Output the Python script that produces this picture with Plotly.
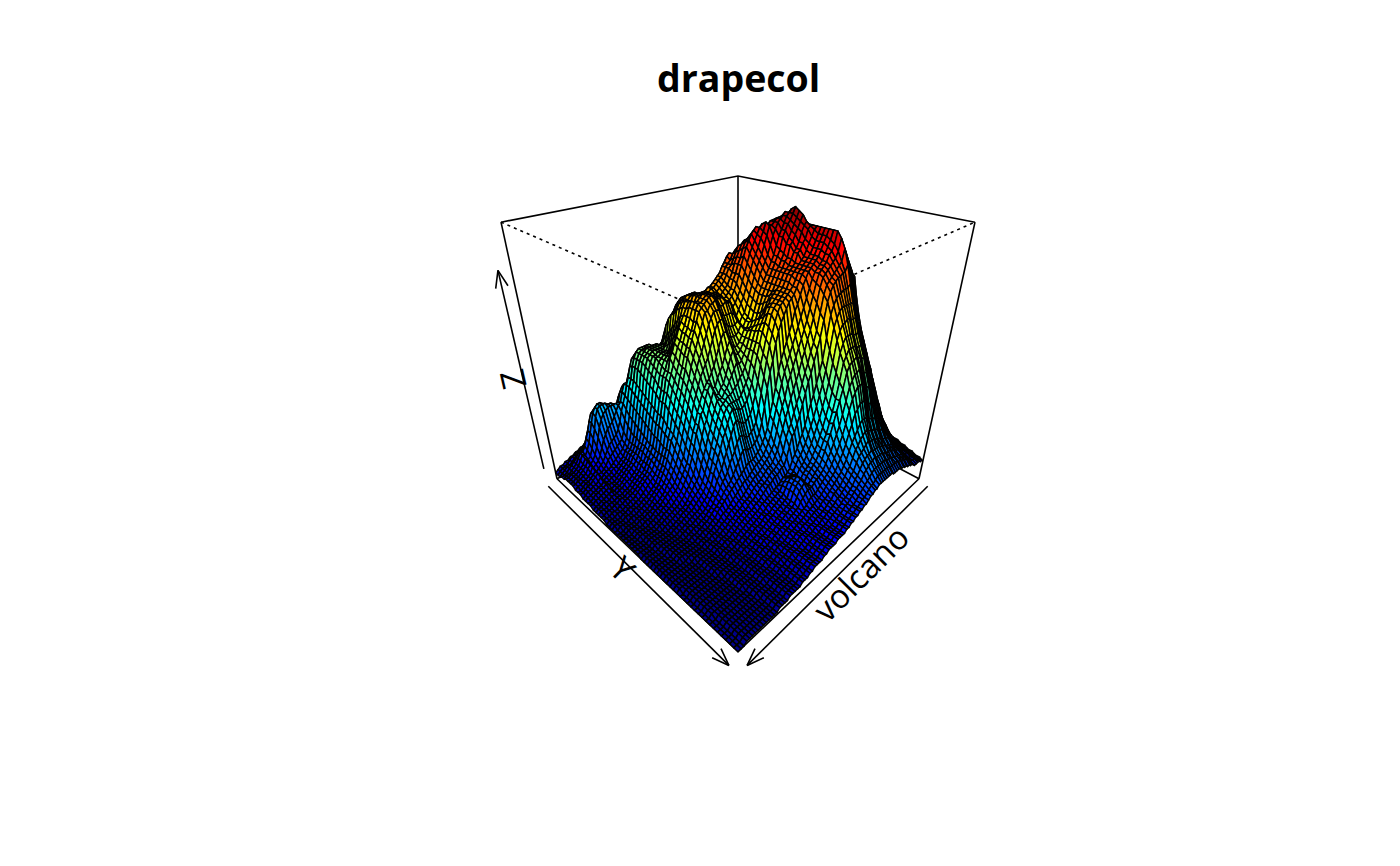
import math
import numpy as np
import plotly.graph_objects as go

title = "drapecol"
x_label, y_label, z_label = "volcano", "Y", "Z"
theta, phi, r_dist, d_dist = 135.0, 30.0, math.sqrt(3), 1.0

volcano = [
[100,100,101,101,101,101,101,100,100,100,101,101,102,102,102,102,103,104,103,102,101,101,102,103,104,104,105,107,107,107,108,108,110,110,110,110,110,110,110,110,108,108,108,107,107,108,108,108,108,108,107,107,107,107,106,106,105,105,104,104,103],
[101,101,102,102,102,102,102,101,101,101,102,102,103,103,103,103,104,105,104,103,102,102,103,105,106,106,107,109,110,110,110,110,111,112,113,114,116,115,114,112,110,110,110,109,108,109,109,109,109,108,108,108,108,107,107,106,106,105,105,104,104],
[102,102,103,103,103,103,103,102,102,102,103,103,104,104,104,104,105,106,105,104,104,105,106,107,108,110,111,113,114,115,114,115,116,118,119,119,121,121,120,118,116,114,112,111,110,110,110,110,109,109,109,109,108,108,107,107,106,106,105,105,104],
[103,103,104,104,104,104,104,103,103,103,103,104,104,104,105,105,106,106,106,106,106,107,108,110,111,114,117,118,117,119,120,121,122,124,125,126,127,127,126,124,122,120,117,116,113,111,110,110,110,109,109,109,109,108,108,107,107,106,106,105,105],
[104,104,105,105,105,105,105,104,104,103,104,104,105,105,105,106,106,107,107,107,108,109,110,111,114,116,118,120,122,122,123,124,126,127,128,129,130,130,129,127,125,123,120,118,115,112,110,110,110,110,110,109,109,108,108,108,107,107,106,106,105],
[105,105,105,106,106,106,106,105,105,104,104,105,105,106,106,106,107,108,108,108,109,110,111,113,116,118,120,122,124,126,127,128,130,131,133,134,136,135,133,130,127,124,120,117,115,113,112,111,111,110,110,109,109,108,108,108,107,107,106,106,105],
[105,106,106,107,107,107,107,106,106,105,105,106,106,107,107,107,108,109,109,110,111,112,113,116,119,121,123,125,127,129,131,132,134,135,137,138,140,139,137,135,133,130,127,124,121,118,116,115,114,113,112,111,110,110,109,108,108,107,107,106,105],
[106,107,107,108,108,108,108,107,107,106,106,107,108,108,108,109,110,110,111,112,113,115,117,120,123,125,127,129,131,133,135,136,138,139,141,142,144,143,141,140,138,136,133,130,128,126,125,124,123,122,120,119,117,115,113,112,110,109,108,107,106],
[107,108,108,109,109,109,109,108,108,107,108,108,110,110,110,111,112,113,114,115,116,118,120,123,126,129,131,133,135,137,139,140,142,143,145,146,147,146,145,144,142,140,137,135,132,130,128,127,125,123,122,120,118,116,115,113,111,110,109,108,107],
[108,109,109,110,110,110,110,109,109,108,109,109,110,111,111,112,113,114,116,117,119,121,124,127,130,133,135,137,139,141,143,144,146,147,149,150,151,150,149,148,146,144,142,140,137,135,133,131,129,128,125,122,120,118,115,114,112,111,110,109,107],
[109,110,110,111,111,111,111,110,110,109,110,110,111,112,112,113,114,116,118,120,122,124,127,130,134,137,139,141,143,145,147,149,150,152,153,154,155,154,153,152,151,149,147,145,142,139,137,135,133,131,128,125,122,120,117,115,113,112,111,110,108],
[110,110,111,112,112,112,112,111,111,110,111,111,112,113,113,114,116,118,120,122,125,127,130,134,137,140,143,145,147,150,152,153,155,156,157,158,158,158,157,157,156,154,152,150,147,144,142,140,137,135,131,128,124,121,118,116,114,113,112,110,108],
[110,111,112,112,113,113,113,112,112,111,112,112,113,114,115,116,118,120,122,125,127,130,134,137,141,144,147,150,152,155,157,158,160,160,161,162,162,162,162,161,161,159,157,155,152,149,146,144,141,138,134,130,126,122,119,117,115,113,112,111,109],
[111,112,113,113,114,114,114,113,113,112,113,113,114,115,116,118,120,122,125,127,130,133,137,141,145,149,152,155,157,160,162,163,164,165,165,166,166,166,166,166,166,165,163,160,156,153,150,147,144,140,136,131,127,123,120,118,116,114,113,111,109],
[114,114,115,115,115,115,115,114,114,113,114,114,115,116,118,120,122,124,127,130,133,137,141,145,149,153,157,160,162,165,167,168,169,169,170,171,172,172,172,172,172,171,169,165,160,156,153,150,146,143,138,133,128,124,121,118,116,115,113,112,110],
[116,116,116,116,116,116,116,115,115,114,115,115,116,118,120,122,124,127,130,134,137,141,145,150,154,158,162,165,167,170,172,172,173,173,174,175,176,177,177,178,178,177,176,175,168,162,157,153,149,145,140,135,130,125,122,119,117,115,113,112,110],
[118,118,118,118,118,117,117,116,116,115,116,117,118,120,122,124,127,130,134,138,142,146,150,155,159,163,167,170,172,175,177,177,177,178,178,179,180,181,181,182,182,181,179,176,170,164,159,155,151,147,142,137,131,126,122,119,117,116,114,113,111],
[120,120,120,119,119,118,118,117,117,117,118,119,120,122,124,127,130,134,138,142,146,151,155,160,164,168,172,175,178,180,182,182,182,182,182,183,184,185,186,186,186,184,181,178,172,166,161,156,152,148,143,138,132,127,123,120,118,116,114,113,111],
[120,120,120,120,120,119,119,118,118,118,119,120,122,124,127,130,133,137,141,146,150,155,160,165,169,173,177,180,183,185,187,187,186,186,186,186,187,188,188,188,188,186,183,179,173,167,162,157,153,149,144,139,133,128,124,121,118,116,115,113,111],
[121,121,121,121,120,120,119,119,119,119,120,122,124,127,130,133,136,140,145,150,154,159,164,169,174,178,182,185,188,190,192,192,191,190,190,190,190,190,190,190,190,188,185,180,174,168,163,158,154,150,145,140,134,128,124,121,119,117,115,113,111],
[121,121,121,121,121,120,120,120,120,120,122,124,126,129,132,136,140,144,149,154,158,163,168,173,178,182,186,189,192,194,195,194,193,191,190,189,188,188,188,187,186,184,181,178,173,168,163,158,154,150,145,140,134,129,125,122,119,117,115,113,111],
[121,121,122,122,122,121,121,121,122,123,125,127,130,133,137,141,145,149,155,160,164,169,173,177,181,185,188,191,193,193,193,192,191,190,189,187,186,186,186,185,184,182,180,178,173,168,163,158,154,151,146,141,135,129,125,122,120,118,116,114,112],
[121,121,122,122,122,122,122,122,123,125,127,130,133,137,141,145,149,153,158,163,167,171,175,179,183,187,189,191,192,192,191,190,189,188,186,185,184,184,184,183,183,181,179,177,173,168,164,159,155,151,147,142,136,130,126,123,120,118,116,114,112],
[121,121,122,122,122,122,122,123,125,127,129,132,135,138,142,146,150,155,160,165,169,173,177,181,183,187,190,191,191,190,190,188,187,185,185,183,182,182,182,181,181,180,178,177,172,168,164,159,155,152,148,143,137,131,126,123,120,118,116,114,112],
[121,121,122,122,122,122,123,124,126,128,130,133,136,139,143,147,152,157,162,167,171,175,179,183,185,188,190,190,190,188,188,186,185,183,183,181,181,181,181,180,180,179,177,176,172,168,163,159,155,151,147,143,137,131,127,123,120,118,116,114,112],
[121,121,122,122,122,123,124,125,126,127,130,133,136,139,143,148,153,158,163,168,172,176,180,184,186,188,189,189,188,186,186,184,184,182,182,180,180,180,180,179,179,178,176,175,171,167,163,159,155,151,147,143,137,131,127,124,121,119,116,114,112],
[120,121,122,122,122,123,124,125,126,127,130,133,136,140,144,149,154,159,165,170,174,177,181,184,187,189,190,189,186,183,182,181,180,180,179,179,179,179,179,178,178,177,175,173,169,165,161,157,153,150,145,141,135,130,126,123,120,118,116,114,112],
[120,121,121,122,122,123,124,125,126,127,130,133,137,141,145,150,155,161,167,172,176,179,182,185,188,188,187,186,183,180,180,179,179,178,178,178,178,178,178,176,175,174,172,170,166,162,158,154,151,148,143,139,134,128,125,122,120,118,116,114,112],
[120,120,121,122,122,123,124,125,126,127,130,133,137,141,146,151,157,163,169,174,177,180,183,185,187,186,185,183,180,178,178,177,177,177,177,177,177,177,176,173,171,169,166,164,158,154,150,147,144,142,138,135,130,126,123,121,119,117,115,113,112],
[120,120,121,122,122,123,124,125,126,127,130,134,138,142,147,153,159,165,171,175,178,181,183,184,186,184,182,180,178,176,176,176,176,176,176,176,175,175,174,170,167,164,160,158,150,147,143,140,138,138,133,130,127,124,122,120,118,116,114,112,111],
[120,120,121,122,122,123,124,125,126,127,130,134,138,143,148,154,160,166,172,176,179,181,182,183,184,182,180,178,176,174,174,174,174,174,174,174,173,173,171,167,163,160,156,154,146,142,138,135,133,134,129,126,123,121,119,118,116,115,113,112,111],
[120,120,121,122,122,123,124,125,126,127,130,134,139,144,150,156,162,168,174,178,178,179,180,181,182,180,178,176,174,172,172,172,172,172,172,172,172,171,168,164,160,157,153,150,142,138,134,131,129,130,126,123,120,118,116,115,114,113,112,111,110],
[120,120,121,122,122,123,124,125,126,127,130,135,140,145,151,157,163,169,174,177,176,177,178,178,179,177,175,173,171,170,170,170,170,171,171,171,171,170,166,161,157,153,149,146,138,134,130,127,125,126,123,120,118,116,115,114,113,112,111,110,110],
[120,120,121,121,121,122,123,124,125,127,130,135,140,145,150,156,162,167,172,175,175,175,176,176,176,174,172,170,169,168,168,168,169,170,170,170,170,169,162,158,154,150,146,143,135,130,127,124,123,123,120,118,116,114,113,112,111,111,110,109,109],
[119,120,120,121,121,122,123,124,125,127,130,135,140,145,150,155,161,166,170,174,174,174,173,173,173,171,169,167,166,165,165,166,167,169,169,169,169,167,159,155,151,146,142,139,131,127,124,121,120,120,118,116,114,113,112,111,110,110,109,109,108],
[119,120,120,121,121,122,123,124,125,127,130,135,140,145,150,155,160,165,169,172,172,172,171,171,170,168,166,164,163,162,162,163,165,167,168,168,168,165,156,152,148,143,138,135,127,124,121,119,118,117,116,114,113,112,110,110,109,109,108,108,108],
[119,119,120,121,121,122,123,124,125,127,131,135,140,145,150,155,160,164,168,171,171,170,169,168,168,166,164,161,160,159,159,161,163,166,167,167,166,163,153,149,145,140,135,131,124,121,119,117,116,115,114,113,112,111,110,109,108,108,107,107,107],
[119,119,120,121,121,122,123,124,126,128,131,135,140,145,150,155,159,163,167,170,170,169,168,167,166,164,162,160,159,159,160,161,162,163,165,165,163,160,150,146,142,137,132,128,122,119,117,115,115,114,113,112,111,110,109,108,108,107,107,107,107],
[119,119,120,120,121,122,123,124,126,128,131,135,140,145,150,155,159,163,167,169,169,168,167,166,165,163,160,158,157,157,158,159,160,161,162,161,159,156,146,142,137,133,128,125,119,117,115,114,114,113,112,111,110,109,109,108,107,107,106,106,106],
[118,118,119,120,121,122,123,124,126,129,132,136,141,146,152,156,160,163,166,168,168,167,166,165,165,165,161,159,158,157,157,158,158,159,159,157,155,150,140,138,134,130,126,124,117,116,114,113,113,112,112,110,109,108,107,107,106,106,106,106,106],
[118,118,119,120,121,121,122,124,126,129,132,136,141,147,153,157,160,163,166,168,168,167,167,167,166,165,162,158,156,155,155,155,155,155,155,152,150,146,135,133,130,126,123,120,115,114,113,112,112,111,111,109,108,107,107,106,106,105,105,105,105],
[118,118,119,120,121,121,122,124,126,130,133,137,142,148,155,158,161,164,166,167,167,167,167,167,167,166,162,158,155,153,153,152,152,152,151,148,144,140,130,128,125,122,118,116,112,112,111,110,110,110,110,108,107,107,106,106,105,105,105,105,105],
[118,118,119,120,121,121,122,124,127,130,134,138,143,150,156,159,162,164,166,167,167,167,167,167,167,165,162,158,155,152,151,150,149,148,146,142,138,133,125,123,120,118,115,113,111,111,112,112,112,111,110,108,107,106,105,105,105,104,104,104,104],
[117,118,118,119,121,121,122,124,127,131,135,140,145,151,158,161,164,165,166,167,167,167,167,167,167,165,162,159,155,152,150,148,146,143,141,137,132,127,122,120,118,116,114,113,110,111,112,113,113,112,110,108,106,105,105,105,104,104,104,104,104],
[117,118,118,119,121,121,122,125,128,132,136,141,147,152,159,162,165,166,167,167,167,168,168,168,168,166,163,160,156,153,150,147,144,141,138,133,127,123,120,118,116,114,113,112,110,111,112,112,112,111,109,107,106,105,104,104,104,103,103,103,103],
[117,117,118,119,121,121,122,125,128,133,137,142,148,153,160,163,165,166,167,167,168,168,169,169,169,168,165,162,158,155,152,148,143,139,135,130,125,121,118,116,115,113,112,111,109,110,111,111,111,110,108,106,105,105,104,104,103,103,103,103,103],
[116,117,118,119,120,121,122,125,129,134,138,143,149,154,160,163,165,166,167,167,168,168,169,169,169,167,165,162,158,153,150,146,141,137,134,129,124,120,117,115,114,113,112,111,108,109,109,109,109,108,107,105,105,104,104,103,103,103,103,103,103],
[116,117,117,118,120,120,122,125,129,134,139,144,150,155,160,163,165,166,167,167,168,168,168,168,168,167,165,161,156,150,147,144,140,136,133,128,123,119,116,114,113,112,111,110,108,107,107,106,106,106,105,105,104,104,103,103,103,103,103,103,103],
[115,116,117,118,120,120,122,125,129,134,139,145,150,155,159,162,164,165,166,166,166,166,167,167,167,165,163,159,153,147,144,142,139,136,133,128,123,119,115,114,112,111,110,109,107,107,106,106,105,105,105,104,104,103,103,103,102,102,102,102,102],
[115,116,117,118,120,120,122,125,130,135,140,145,150,154,158,160,162,164,165,166,166,167,167,167,166,165,161,156,150,145,141,140,138,136,134,129,124,119,115,113,111,110,109,109,107,106,106,105,105,105,104,104,103,103,103,102,102,102,102,102,102],
[114,115,116,117,120,120,122,126,131,136,141,146,150,154,157,159,160,162,163,164,164,165,165,165,165,162,158,153,147,143,140,139,138,136,134,130,125,120,115,112,111,109,109,108,106,106,105,105,104,104,104,103,103,103,102,102,102,102,102,102,102],
[114,115,116,117,119,120,122,127,132,138,142,145,147,149,151,153,155,157,159,161,162,162,162,161,162,159,155,150,145,140,138,137,137,136,135,131,125,120,114,111,110,109,108,107,106,105,105,104,104,104,103,103,103,102,102,102,102,102,102,102,102],
[113,114,115,117,119,119,122,128,134,139,143,145,146,147,148,150,152,154,156,158,160,159,159,158,159,156,152,148,143,140,138,137,136,135,133,129,123,118,113,110,109,108,107,106,105,105,104,104,103,103,103,103,102,102,102,102,101,101,101,101,101],
[113,114,115,116,119,119,122,129,136,141,144,146,147,147,147,148,149,151,153,155,158,157,157,156,156,153,150,146,142,142,140,137,135,133,130,126,120,116,112,110,108,107,106,105,105,104,103,103,103,103,102,102,102,102,102,101,101,101,101,101,101],
[113,113,114,116,118,119,122,130,137,142,145,146,147,147,147,147,147,148,150,152,155,154,154,153,153,150,147,144,140,140,137,134,132,130,127,123,118,114,111,109,107,106,105,105,104,103,103,103,102,102,102,102,102,101,101,101,100,100,100,100,100],
[113,113,114,115,118,119,122,131,138,143,146,147,147,147,147,147,147,147,148,150,153,152,151,150,150,147,144,141,138,137,134,131,129,127,125,120,116,112,110,108,106,105,105,104,103,103,103,102,102,102,102,101,101,101,101,100,100,100,100,100,100],
[112,113,114,115,118,119,122,131,139,144,146,147,147,147,147,147,147,147,147,148,150,149,147,146,146,143,141,138,135,133,130,127,125,123,121,117,113,110,109,107,105,105,104,103,103,102,102,102,101,101,101,101,100,100,100,100,100,100,100,100,100],
[112,112,113,115,118,118,122,131,139,144,146,146,147,147,147,146,146,146,146,146,148,146,144,143,142,140,138,135,132,132,128,124,121,120,118,114,111,109,108,106,105,104,103,103,102,102,101,101,101,101,101,100,100,100,100,100,100,100,100,100,100],
[112,112,113,114,117,118,122,131,139,144,146,146,146,146,146,146,146,145,144,143,143,143,141,139,138,136,134,131,128,128,124,120,117,116,115,112,110,108,107,105,104,103,103,102,102,101,101,101,100,100,100,100,100,100,100,100,99,99,99,99,99],
[111,112,113,114,117,118,122,130,138,143,145,145,145,145,145,144,143,142,141,141,141,140,138,136,134,132,130,127,125,125,120,117,114,112,112,110,108,107,106,104,103,103,102,102,101,101,101,100,100,100,100,100,100,99,99,99,99,99,99,99,99],
[111,111,112,114,117,118,122,129,137,142,143,143,143,143,142,141,140,139,137,136,136,136,134,132,130,128,126,123,121,120,117,114,111,109,108,107,106,105,105,103,103,102,102,101,101,100,100,100,100,100,99,99,99,99,99,99,99,99,99,98,98],
[110,111,112,114,118,118,123,128,135,139,140,140,140,139,138,137,136,135,134,132,132,132,130,128,126,124,122,119,117,116,113,110,108,107,106,105,105,104,104,102,102,101,101,101,100,100,100,99,99,99,99,99,99,99,99,98,98,98,98,98,98],
[110,110,111,114,118,119,124,128,132,135,135,135,134,133,132,131,130,129,128,127,127,126,124,123,122,120,118,115,113,113,110,108,106,105,104,104,103,103,103,102,101,101,100,100,100,99,99,99,99,99,99,98,98,98,98,98,98,98,98,98,98],
[109,110,111,114,118,120,125,130,132,132,132,131,130,129,128,127,126,125,124,123,123,122,121,120,120,117,115,113,111,110,108,107,105,104,103,102,102,102,102,101,100,100,100,99,99,99,99,98,98,98,98,98,98,98,98,98,97,97,97,97,97],
[109,109,110,114,119,121,125,128,129,128,127,126,125,124,123,122,121,120,119,118,118,117,116,116,116,114,112,110,109,108,106,105,104,103,102,101,101,101,100,100,100,99,99,99,98,98,98,98,98,98,98,98,98,97,97,97,97,97,97,97,97],
[108,109,110,113,117,120,122,124,125,125,123,121,120,119,118,117,116,115,114,114,113,113,113,113,113,111,110,108,107,106,105,104,103,102,101,100,100,100,100,99,99,99,98,98,98,98,98,98,97,97,97,97,97,97,97,97,97,97,97,97,97],
[108,109,110,114,119,121,123,124,124,122,119,117,115,114,114,113,113,113,112,112,111,111,110,110,110,109,108,106,105,104,103,102,102,101,100,100,99,99,99,99,98,98,98,98,98,97,97,97,97,97,97,97,97,97,97,97,97,97,97,97,97],
[107,108,110,115,120,122,124,124,122,118,114,112,111,111,111,111,111,111,110,110,110,109,108,108,108,107,106,105,104,103,102,101,101,100,100,99,99,99,98,98,98,98,98,98,97,97,97,97,97,97,97,97,97,97,97,97,97,97,97,97,97],
[107,108,111,116,121,123,124,124,120,115,111,110,109,109,109,109,109,108,108,108,108,107,106,106,106,105,105,104,103,102,101,100,100,100,99,99,98,98,98,98,98,97,97,97,97,97,97,97,97,97,97,97,97,97,97,96,96,96,96,96,96],
[106,107,111,117,122,124,125,124,118,113,110,108,108,108,108,108,107,107,107,106,106,106,105,104,104,104,103,103,102,101,100,100,100,99,99,98,98,98,98,97,97,97,97,97,97,97,97,96,96,96,96,96,96,96,96,96,96,96,96,96,96],
[106,107,111,118,123,125,125,123,117,112,109,107,106,106,106,106,106,105,105,105,105,105,104,103,103,103,102,102,101,100,100,99,99,99,98,98,98,97,97,97,97,97,97,97,96,96,96,96,96,96,96,96,96,96,96,96,96,96,96,96,96],
[105,106,110,118,123,125,125,122,116,111,108,106,105,105,105,105,105,104,104,104,104,104,103,102,102,102,101,101,100,100,99,99,98,98,98,98,97,97,97,97,97,96,96,96,96,96,96,96,96,96,96,96,96,96,96,96,96,96,96,96,96],
[105,106,110,117,122,124,124,120,114,110,107,105,104,104,104,104,104,103,103,103,103,103,102,101,101,101,100,100,100,99,99,98,98,98,97,97,97,97,96,96,96,96,96,96,96,96,96,96,96,96,96,96,96,96,96,96,95,95,95,95,95],
[104,105,109,116,121,122,121,117,112,108,106,104,103,103,103,103,103,102,102,102,102,102,101,100,100,100,100,99,99,99,98,98,97,97,97,97,96,96,96,96,96,96,96,96,96,96,96,96,96,96,96,96,96,95,95,95,95,95,95,95,95],
[104,105,108,114,118,118,116,113,109,106,105,103,103,102,102,102,102,102,101,101,101,101,100,100,99,99,99,99,98,98,98,97,97,97,96,96,96,96,96,96,96,96,96,96,96,96,96,96,95,95,95,95,95,95,95,95,95,95,95,95,95],
[103,104,107,111,114,114,112,109,106,104,103,102,102,101,101,101,101,101,100,100,100,100,99,99,99,98,98,98,98,97,97,97,96,96,96,96,96,96,96,96,96,96,96,96,96,96,96,95,95,95,95,95,95,95,95,95,95,95,95,95,95],
[103,104,106,108,111,110,108,106,104,103,102,102,101,101,100,100,100,100,100,100,100,99,99,98,98,98,98,97,97,97,97,96,96,96,96,96,96,96,96,96,96,96,95,95,95,95,95,95,95,95,95,95,95,95,95,95,95,95,95,95,95],
[102,103,104,106,108,107,105,104,103,102,101,101,101,100,100,100,100,100,99,99,99,99,98,98,98,97,97,97,97,96,96,96,96,96,96,96,96,96,96,96,96,95,95,95,95,95,95,95,95,95,95,95,95,95,95,95,95,95,95,95,95],
[102,103,103,105,106,105,104,103,102,101,101,100,100,100,100,99,99,99,99,99,99,98,98,98,97,97,97,97,96,96,96,96,96,96,96,96,96,96,96,96,95,95,95,95,95,95,95,95,95,95,95,95,95,95,95,95,95,95,95,95,95],
[101,102,103,105,106,106,105,105,104,104,103,103,102,101,101,100,100,99,99,99,98,98,98,97,97,97,97,96,96,96,96,96,96,96,96,96,96,96,96,96,95,95,95,95,95,95,95,95,95,95,95,95,95,95,95,95,95,95,95,95,95],
[101,102,102,103,104,104,103,103,103,102,102,102,101,100,100,100,99,99,98,98,98,97,97,97,97,96,96,96,96,96,96,96,96,96,96,96,96,95,95,95,95,95,95,95,95,95,95,95,95,95,95,95,95,95,95,95,95,95,95,95,95],
[100,101,101,102,102,102,102,102,101,101,101,101,100,100,100,99,99,98,98,98,97,97,97,97,96,96,96,96,96,96,96,96,96,96,95,95,95,95,95,95,95,95,95,95,95,95,95,95,95,95,95,95,95,95,95,95,95,95,95,95,95],
[100,100,100,101,101,101,101,101,101,100,100,100,100,99,99,99,98,98,98,97,97,97,96,96,96,96,96,96,96,96,95,95,95,95,95,95,95,95,95,95,95,95,95,95,95,95,95,95,95,95,95,95,95,95,95,95,95,95,95,95,95],
[99,99,100,100,100,100,100,100,100,100,100,100,99,99,99,98,98,98,97,97,97,96,96,96,96,96,96,95,95,95,95,95,95,95,95,95,95,95,95,95,95,95,95,95,95,95,95,95,95,95,95,95,95,95,95,95,95,95,95,95,95],
[99,99,99,99,99,100,100,100,100,99,99,99,99,98,98,98,97,97,97,97,96,96,96,96,96,95,95,95,95,95,95,95,95,95,95,95,95,95,95,95,95,95,95,95,95,95,95,95,95,95,95,95,95,94,94,94,94,94,94,94,94],
[98,98,98,98,99,99,99,99,99,99,98,98,98,98,97,97,97,97,97,96,96,96,96,96,95,95,95,95,95,95,95,95,95,95,95,95,95,95,95,95,95,95,95,95,95,94,94,94,94,94,94,94,94,94,94,94,94,94,94,94,94],
[97,97,97,98,98,99,99,99,99,98,98,98,97,97,97,97,96,96,96,96,96,95,95,95,95,95,95,95,95,95,95,95,95,94,94,94,94,94,94,94,94,94,94,94,94,94,94,94,94,94,94,94,94,94,94,94,94,94,94,94,94],
]
bad = [(i + 1, len(r)) for i, r in enumerate(volcano) if len(r) != 61]
if bad or len(volcano) != 87:
    raise SystemExit(f"bad rows {bad} n={len(volcano)}")

Z = np.array(volcano, dtype=float)
nr, nc = Z.shape
zmin, zmax = Z.min(), Z.max()

# persp() view transform
def project(x, y, z):
    x, y, z = np.asarray(x, float), np.asarray(y, float), np.asarray(z, float)
    t, p = math.radians(-theta), math.radians(phi)
    a, b, c = x, z, -y
    xa = math.cos(t) * a + math.sin(t) * c
    za = -math.sin(t) * a + math.cos(t) * c
    ya = b
    yb = math.cos(p) * ya - math.sin(p) * za
    zb = math.sin(p) * ya + math.cos(p) * za
    w = 1 + (r_dist + d_dist - zb) / d_dist
    return xa / w, yb / w

# jet-like 100 step palette
stops = [(0.0, 0, 0, 0.55), (0.08, 0, 0, 1), (0.375, 0, 1, 1), (0.64, 1, 1, 0), (0.89, 1, 0, 0), (1.0, 0.5, 0, 0)]
def palette(n=100):
    out = []
    for k in range(n):
        v = k / (n - 1)
        for a, b in zip(stops, stops[1:]):
            if v <= b[0]:
                f = (v - a[0]) / (b[0] - a[0])
                rgb = [a[q] + f * (b[q] - a[q]) for q in (1, 2, 3)]
                out.append("rgb(%d,%d,%d)" % tuple(round(c * 255) for c in rgb))
                break
    return out

pal = palette()

xs = np.linspace(-1, 1, nr)
ys = np.linspace(-1, 1, nc)
GX, GY = np.meshgrid(xs, ys, indexing="ij")
GZ = 2 * (Z - zmin) / (zmax - zmin) - 1
PX, PY = project(GX, GY, GZ)

fig = go.Figure()
INK = "#000000"
LW = 1.6

def seg(points, dash=None, width=LW):
    pts = np.array(points, float)
    X, Y = project(pts[:, 0], pts[:, 1], pts[:, 2])
    fig.add_trace(go.Scatter(x=X, y=Y, mode="lines", hoverinfo="skip",
                             line=dict(color=INK, width=width, dash=dash)))

# box: far edges
seg([(1, -1, 1), (-1, -1, 1), (-1, 1, 1)])
seg([(-1, -1, 1), (-1, -1, -1)])
seg([(1, -1, -1), (-1, -1, -1), (-1, 1, -1)])
seg([(1, -1, 1), (1, -1, -1)])
seg([(-1, 1, 1), (-1, 1, -1)])
seg([(1, -1, -1), (1, 1, -1), (-1, 1, -1)])
seg([(1, -1, 1), (1, 1, 1), (-1, 1, 1)], dash="3px,4px")

# facets, far to near
run_color, rx, ry = None, [], []
def flush():
    global rx, ry
    if rx:
        fig.add_trace(go.Scatter(x=rx, y=ry, mode="lines", fill="toself", fillcolor=run_color,
                                 hoverinfo="skip", line=dict(color=INK, width=1.5)))
    rx, ry = [], []

for i in range(nr - 1):
    for j in range(nc - 1):
        m = (Z[i, j] + Z[i + 1, j] + Z[i, j + 1] + Z[i + 1, j + 1]) / 4
        col = pal[int((m - zmin) / (zmax - zmin) * 99)]
        if col != run_color:
            flush()
            run_color = col
        rx += [float(PX[i, j]), float(PX[i + 1, j]), float(PX[i + 1, j + 1]), float(PX[i, j + 1]), float(PX[i, j]), None]
        ry += [float(PY[i, j]), float(PY[i + 1, j]), float(PY[i + 1, j + 1]), float(PY[i, j + 1]), float(PY[i, j]), None]
flush()

# arrows
def arrow(p0, p1):
    X, Y = project(np.array([p0[0], p1[0]]), np.array([p0[1], p1[1]]), np.array([p0[2], p1[2]]))
    dx, dy = X[0] - X[1], Y[0] - Y[1]
    n = math.hypot(dx, dy)
    dx, dy = dx / n, dy / n
    L, ang = 0.034, math.radians(20)
    hx = [X[1] + L * (dx * math.cos(s * ang) - dy * math.sin(s * ang)) for s in (1, -1)]
    hy = [Y[1] + L * (dx * math.sin(s * ang) + dy * math.cos(s * ang)) for s in (1, -1)]
    fig.add_trace(go.Scatter(x=[X[0], X[1], None, hx[0], X[1], hx[1]],
                             y=[Y[0], Y[1], None, hy[0], Y[1], hy[1]],
                             mode="lines", hoverinfo="skip", line=dict(color=INK, width=LW)))

arrow((-0.97, 1.09, -1), (1.02, 1.09, -1))
arrow((1.09, -0.97, -1), (1.09, 1.02, -1))
arrow((1.06, -1.06, -0.9), (1.06, -1.06, 0.7))

W, H = 1400, 866
SX, CX = 541.6, 738.0
SY, TOP = 543.0, 176.0
Y_TOP = float(project(-1, -1, 1)[1])
x_range = [(0 - CX) / SX, (W - CX) / SX]
y_range = [Y_TOP - (H - TOP) / SY, Y_TOP + TOP / SY]

def pa(px, py):
    return px / W, 1 - py / H

FONT = "Open Sans"
anns = []
for txt, px, py, ang, size, bold in [
    (title, 738, 78, 0, 37.5, True),
    (x_label, 860, 573, -45, 33, False),
    (y_label, 623, 568, 44.5, 33, False),
    (z_label, 512, 380, -103, 33, False),
]:
    ax, ay = pa(px, py)
    anns.append(dict(text=f"<b>{txt}</b>" if bold else txt, x=ax, y=ay, xref="paper", yref="paper",
                     xanchor="center", yanchor="middle", showarrow=False, textangle=ang,
                     font=dict(family=FONT, size=size, color="#000000")))

fig.update_layout(
    width=W, height=H, margin=dict(l=0, r=0, t=0, b=0), showlegend=False,
    paper_bgcolor="white", plot_bgcolor="white", hovermode=False, annotations=anns,
    xaxis=dict(range=x_range, visible=False, fixedrange=True),
    yaxis=dict(range=y_range, visible=False, fixedrange=True),
)
fig.write_html("out.html", config={"staticPlot": True, "displayModeBar": False},
               post_script="document.body.style.margin='0';")
